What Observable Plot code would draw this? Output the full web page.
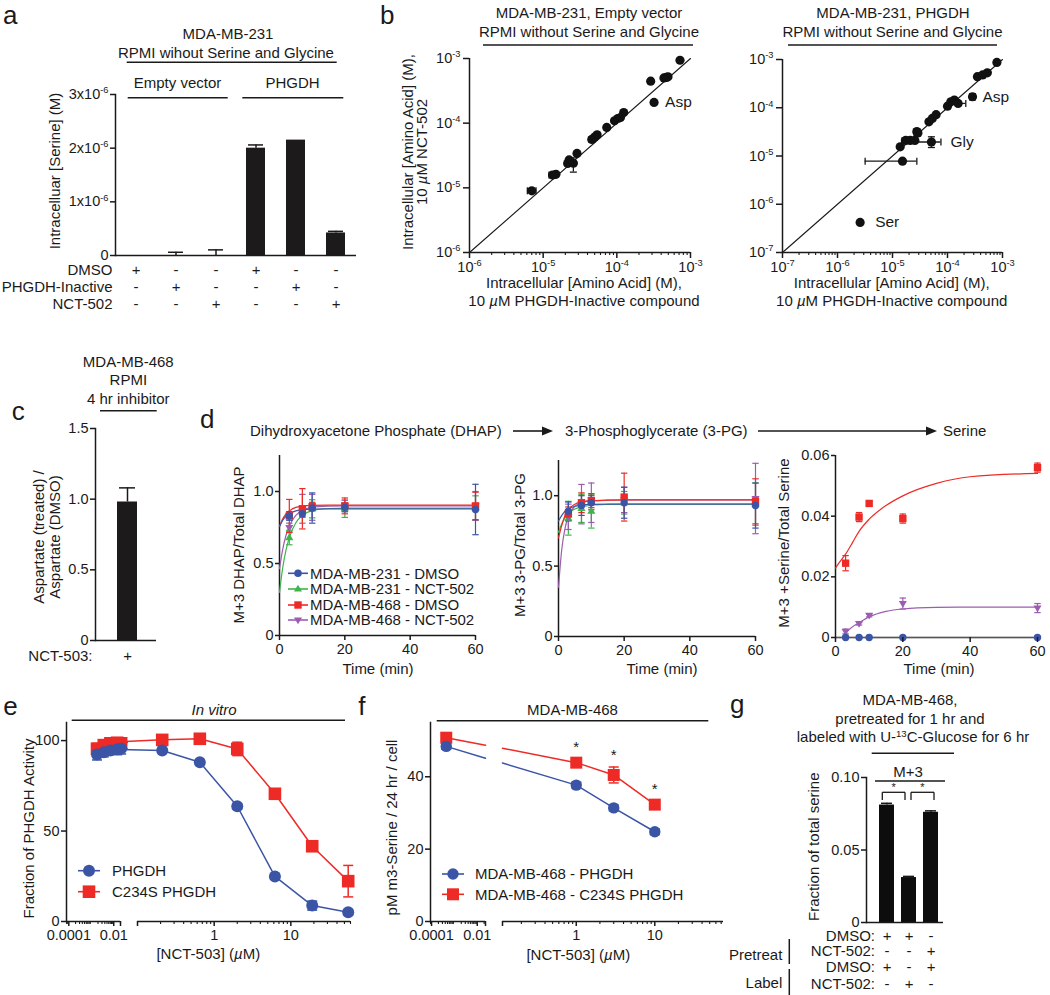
<!DOCTYPE html>
<html>
<head>
<meta charset="utf-8">
<script src="https://cdn.jsdelivr.net/npm/d3@7"></script>
<script src="https://cdn.jsdelivr.net/npm/@observablehq/plot@0.6"></script>
<style>
  html, body { margin: 0; padding: 0; background: #ffffff; }
  #fig { position: relative; width: 1050px; height: 995px; overflow: hidden; background: #ffffff;
         font-family: "Liberation Sans", Arial, Helvetica, sans-serif; color: #1a1a1a; }
</style>
</head>
<body>
<div id="fig"></div>
<script>
// ======================= DATA =======================
// --- panel a ---
const aConditions = ["EV DMSO", "EV PHGDH-Inactive", "EV NCT-502", "PHGDH DMSO", "PHGDH PHGDH-Inactive", "PHGDH NCT-502"];
const aSerine = [0, 0, 0, 2.0e-6, 2.15e-6, 0.42e-6];
const aSerineErr = [0, 0.06e-6, 0.105e-6, 0.06e-6, 0, 0.03e-6];
const aRowLabels = ["DMSO", "PHGDH-Inactive", "NCT-502"];
const aRowSigns = [
  ["+", "-", "-", "+", "-", "-"],
  ["-", "+", "-", "-", "+", "-"],
  ["-", "-", "+", "-", "-", "+"]
];
const aYTicks = [0, 1e-6, 2e-6, 3e-6];
const aYTickLabels = ["0", "1x10^-6", "2x10^-6", "3x10^-6"];

// --- panel b (x: PHGDH-Inactive, y: NCT-502) ---
const bDecades = [1e-7, 1e-6, 1e-5, 1e-4, 1e-3];
const bEmptyInactive = [7.0e-6, 1.34e-5, 1.49e-5, 2.15e-5, 2.25e-5, 2.57e-5, 2.88e-5, 4.57e-5, 5.0e-5, 5.4e-5, 7.3e-5, 9.3e-5, 1.03e-4, 1.12e-4, 1.24e-4, 2.88e-4, 3.2e-4, 4.36e-4, 4.7e-4, 4.95e-4, 7.2e-4];
const bEmptyNct      = [9.0e-6, 1.58e-5, 1.62e-5, 2.38e-5, 2.7e-5, 2.4e-5, 3.4e-5, 5.6e-5, 6.1e-5, 6.6e-5, 8.6e-5, 1.09e-4, 1.18e-4, 1.22e-4, 1.46e-4, 4.46e-4, 2.09e-4, 5.0e-4, 5.1e-4, 5.2e-4, 9.4e-4];
const bEmptyYErrIdx = [5];
const bEmptyYErrLo = [1.75e-5];
const bEmptyYErrHi = [2.9e-5];
const bEmptyXErrIdx = [0, 1, 7];
const bEmptyXErrLo = [6.1e-6, 1.2e-5, 4.2e-5];
const bEmptyXErrHi = [8.0e-6, 1.5e-5, 5.0e-5];
const bEmptyLabelIdx = [16];
const bEmptyLabelText = ["Asp"];

const bPhgdhInactive = [2.58e-6, 1.52e-5, 1.38e-5, 1.74e-5, 2.1e-5, 2.55e-5, 2.77e-5, 2.9e-5, 4.6e-5, 5.3e-5, 6.2e-5, 1.0e-4, 1.15e-4, 1.33e-4, 1.56e-4, 2.85e-4, 3.5e-4, 4.35e-4, 5.3e-4, 7.9e-4, 5.1e-5];
const bPhgdhNct      = [4.2e-7, 7.8e-6, 1.55e-5, 2.1e-5, 2.1e-5, 2.1e-5, 3.2e-5, 3.0e-5, 5.1e-5, 6.0e-5, 7.2e-5, 1.08e-4, 1.33e-4, 1.44e-4, 1.23e-4, 1.69e-4, 4.4e-4, 4.8e-4, 5.3e-4, 8.7e-4, 1.95e-5];
const bPhgdhXErrIdx = [1, 20, 14, 3];
const bPhgdhXErrLo = [3.18e-6, 1.46e-5, 1.15e-4, 1.5e-5];
const bPhgdhXErrHi = [2.77e-5, 7.6e-5, 2.15e-4, 2.0e-5];
const bPhgdhYErrIdx = [20, 15, 6];
const bPhgdhYErrLo = [1.5e-5, 1.45e-4, 2.7e-5];
const bPhgdhYErrHi = [2.5e-5, 1.95e-4, 3.6e-5];
const bPhgdhLabelIdx = [15, 20, 0];
const bPhgdhLabelText = ["Asp", "Gly", "Ser"];

// --- panel c ---
const cConditions = ["NCT-503"];
const cRatio = [0.98];
const cRatioErr = [0.10];
const cRowLabel = ["NCT-503:"];
const cRowSigns = ["+"];
const cYTicks = [0, 0.5, 1.0, 1.5];

// --- panel d ---
const dTimes = [3, 7, 10, 20, 60];
const dSeriesNames = ["MDA-MB-231 - DMSO", "MDA-MB-231 - NCT-502", "MDA-MB-468 - DMSO", "MDA-MB-468 - NCT-502"];
const dhap231Dmso    = [0.83, 0.845, 0.885, 0.89, 0.875];
const dhap231DmsoErr = [0.03, 0.02, 0.105, 0.03, 0.175];
const dhap231Nct     = [0.68, 0.86, 0.88, 0.88, 0.885];
const dhap231NctErr  = [0.05, 0.04, 0.063, 0.06, 0.085];
const dhap468Dmso    = [0.83, 0.88, 0.895, 0.90, 0.90];
const dhap468DmsoErr = [0.115, 0.14, 0.03, 0.055, 0.095];
const dhap468Nct     = [0.75, 0.88, 0.89, 0.90, 0.90];
const dhap468NctErr  = [0.03, 0.10, 0.09, 0.04, 0.10];
const pg231Dmso    = [0.89, 0.93, 0.95, 0.95, 0.93];
const pg231DmsoErr = [0.065, 0.07, 0.05, 0.11, 0.16];
const pg231Nct     = [0.84, 0.91, 0.89, 0.95, 0.94];
const pg231NctErr  = [0.12, 0.10, 0.12, 0.08, 0.15];
const pg468Dmso    = [0.87, 0.95, 0.965, 0.99, 0.96];
const pg468DmsoErr = [0.05, 0.07, 0.05, 0.17, 0.16];
const pg468Nct     = [0.85, 0.94, 0.95, 0.97, 0.98];
const pg468NctErr  = [0.09, 0.14, 0.14, 0.09, 0.25];
const ser231Dmso    = [0, 0, 0, 0, 0];
const ser231DmsoErr = [0, 0, 0, 0, 0];
const ser468Dmso    = [0.0245, 0.0397, 0.0442, 0.0392, 0.056];
const ser468DmsoErr = [0.0025, 0.0015, 0.0007, 0.0015, 0.0015];
const ser468Nct     = [0.002, 0.0046, 0.0073, 0.0112, 0.0097];
const ser468NctErr  = [0.0008, 0.0005, 0.0005, 0.0018, 0.0015];
// fitted curves
const curveT = [0, 1, 2, 3, 5, 7, 10, 15, 20, 30, 40, 60];
const dhapFit231Dmso = [0.757, 0.80, 0.83, 0.845, 0.865, 0.873, 0.878, 0.88, 0.88, 0.88, 0.88, 0.88];
const dhapFit231Nct  = [0.30, 0.473, 0.594, 0.68, 0.783, 0.834, 0.867, 0.882, 0.885, 0.885, 0.885, 0.885];
const dhapFit468Dmso = [0.757, 0.81, 0.845, 0.865, 0.89, 0.898, 0.903, 0.905, 0.905, 0.905, 0.905, 0.905];
const dhapFit468Nct  = [0.465, 0.60, 0.696, 0.76, 0.835, 0.87, 0.89, 0.898, 0.90, 0.90, 0.90, 0.90];
const pgFit231Dmso = [0.82, 0.86, 0.89, 0.905, 0.925, 0.933, 0.938, 0.94, 0.94, 0.94, 0.94, 0.94];
const pgFit231Nct  = [0.74, 0.80, 0.845, 0.875, 0.905, 0.92, 0.932, 0.938, 0.94, 0.94, 0.94, 0.94];
const pgFit468Dmso = [0.70, 0.79, 0.86, 0.90, 0.94, 0.955, 0.965, 0.968, 0.97, 0.97, 0.97, 0.97];
const pgFit468Nct  = [0.35, 0.62, 0.77, 0.85, 0.925, 0.95, 0.965, 0.968, 0.97, 0.97, 0.97, 0.97];
const serFit231Dmso = [0, 0, 0, 0, 0, 0, 0, 0, 0, 0, 0, 0];
const serFit468Dmso = [0.0229, 0.0245, 0.026, 0.0275, 0.0312, 0.035, 0.039, 0.0435, 0.0467, 0.0508, 0.053, 0.0541];
const serFit468Nct  = [null, null, 0, 0.0015, 0.0035, 0.0049, 0.0068, 0.0086, 0.0094, 0.0099, 0.01, 0.01];

// --- panel e ---
const eSeriesNames = ["PHGDH", "C234S PHGDH"];
const eConc = [0.0018, 0.0036, 0.0071, 0.0142, 0.0214, 0.21, 0.65, 2.0, 6.2, 19, 56];
const ePhgdh    = [92.3, 93.5, 94.5, 95.2, 95.6, 94.5, 88, 63.7, 24.9, 8.8, 5.1];
const ePhgdhErr = [3, 2.5, 2, 3, 3, 1, 1, 1.5, 1.5, 2.5, 1.5];
const eC234s    = [95.5, 97.5, 98.5, 98.8, 98.5, 100.4, 101, 95.4, 70.6, 41.6, 22.3];
const eC234sErr = [3, 2.5, 2.5, 2.5, 2.5, 1.5, 1, 3.7, 2, 2, 8.7];
const eLowTicks = [1e-4, 1e-2];
const eHighTicks = [1, 10];

// --- panel f ---
const fSeriesNames = ["MDA-MB-468 - PHGDH", "MDA-MB-468 - C234S PHGDH"];
const fConc = [0.00044, 1, 3, 10];
const fPhgdh    = [48.4, 37.7, 31.4, 24.8];
const fPhgdhErr = [0.8, 0.8, 0.8, 0.8];
const fC234s    = [50.8, 43.9, 40.5, 32.3];
const fC234sErr = [0.8, 1.0, 2.2, 1.0];
const fBreakConc = [0.023, 0.115];         // ends of the two axis segments
const fPhgdhAtBreak = [45.1, 43.8];        // line height where it meets the break
const fC234sAtBreak = [48.7, 47.9];
const fStarConc = [1, 3, 10];
const fYTicks = [0, 20, 40];

// --- panel g ---
const gConditions = ["DMSO/DMSO", "DMSO/NCT-502", "NCT-502/DMSO"];
const gFraction = [0.081, 0.031, 0.076];
const gFractionErr = [0.0012, 0.0008, 0.0010];
const gRowLabels = ["DMSO:", "NCT-502:", "DMSO:", "NCT-502:"];
const gRowSigns = [["+", "+", "-"], ["-", "-", "+"], ["+", "-", "+"], ["-", "+", "-"]];
const gYTicks = [0, 0.05, 0.10];

// ======================= STYLE HELPERS =======================
const FONT = '"Liberation Sans", Arial, Helvetica, sans-serif';
const INK = "#1a1a1a";
const BAR = "#1c1a1b";
const BLUE = "#3a55a6", GREEN = "#3db54a", RED = "#ee2a26", PURPLE = "#9c5db0";
const fig = document.getElementById("fig");

const symHCap = {draw(ctx, size) { const w = Math.sqrt(size / Math.PI); ctx.moveTo(-w, 0); ctx.lineTo(w, 0); }};
const symVCap = {draw(ctx, size) { const w = Math.sqrt(size / Math.PI); ctx.moveTo(0, -w); ctx.lineTo(0, w); }};
const symSquare = {draw(ctx, size) { const h = Math.sqrt(size / Math.PI); ctx.rect(-h, -h, 2 * h, 2 * h); }};
const symTriUp = {draw(ctx, size) { const r = Math.sqrt(size / Math.PI) * 1.25; ctx.moveTo(0, -r); ctx.lineTo(r * 0.95, r * 0.6); ctx.lineTo(-r * 0.95, r * 0.6); ctx.closePath(); }};
const symTriDown = {draw(ctx, size) { const r = Math.sqrt(size / Math.PI) * 1.25; ctx.moveTo(0, r); ctx.lineTo(r * 0.95, -r * 0.6); ctx.lineTo(-r * 0.95, -r * 0.6); ctx.closePath(); }};

function minorTicks(lo, hi) {
  const out = [];
  for (let n = Math.floor(Math.log10(lo)); n <= Math.ceil(Math.log10(hi)); n++)
    for (let k = 2; k <= 9; k++) {
      const v = +(k * Math.pow(10, n)).toPrecision(6);
      if (v >= lo && v <= hi) out.push(v);
    }
  return out;
}

function supify(svg) {
  svg.querySelectorAll("text").forEach(t => {
    if (t.children.length === 0 && t.textContent.includes("^")) {
      const [base, sup] = t.textContent.split("^");
      t.textContent = base;
      const ts = document.createElementNS("http://www.w3.org/2000/svg", "tspan");
      ts.setAttribute("dy", "-0.62em");
      ts.setAttribute("font-size", "0.64em");
      ts.textContent = sup;
      t.appendChild(ts);
    }
  });
}

function placePlot(frame, m, spec) {
  const {style: extra, ...rest} = spec;
  const svg = Plot.plot({
    width: frame.r - frame.l + m.l + m.r,
    height: frame.b - frame.t + m.t + m.b,
    marginLeft: m.l, marginRight: m.r, marginTop: m.t, marginBottom: m.b,
    style: {fontFamily: FONT, fontSize: "14.5px", background: "none", color: INK, overflow: "hidden", ...(extra || {})},
    ...rest
  });
  svg.style.position = "absolute";
  svg.style.left = (frame.l - m.l) + "px";
  svg.style.top = (frame.t - m.t) + "px";
  svg.style.maxWidth = "none";
  supify(svg);
  fig.appendChild(svg);
  return svg;
}

function errY(data, color, cap, w) {
  return [
    Plot.ruleX(data, {x: "x", y1: d => d.y - d.e, y2: d => d.y + d.e, stroke: color, strokeWidth: w}),
    Plot.dot(data, {x: "x", y: d => d.y + d.e, symbol: symHCap, r: cap, stroke: color, strokeWidth: w, fill: "none"}),
    Plot.dot(data, {x: "x", y: d => d.y - d.e, symbol: symHCap, r: cap, stroke: color, strokeWidth: w, fill: "none"})
  ];
}
function dotMark(data, color, symbol, r) {
  if (symbol === "circle") return Plot.dot(data, {x: "x", y: "y", r, fill: color, stroke: "none"});
  return Plot.dot(data, {x: "x", y: "y", r, symbol, fill: color, stroke: "none"});
}
const AX = {strokeWidth: 1.5, label: null, fontSize: 14.5};

// ======================= PANEL a =======================
{
  const data = aConditions.map((c, i) => ({c, v: aSerine[i], e: aSerineErr[i]}));
  const err = data.filter(d => d.e > 0);
  placePlot({l: 115, t: 94, r: 356, b: 255}, {l: 115, t: 10, r: 5, b: 65}, {
    x: {type: "band", domain: aConditions, paddingInner: 0.532, paddingOuter: 0.234, axis: null},
    y: {domain: [0, 3e-6]},
    marks: [
      Plot.barY(data, {x: "c", y: "v", fill: BAR}),
      Plot.ruleX(err, {x: "c", y1: "v", y2: d => d.v + d.e, strokeWidth: 1.5}),
      Plot.tickY(err, {x: "c", y: d => d.v + d.e, strokeWidth: 1.5, insetLeft: 2, insetRight: 2}),
      Plot.axisY({...AX, ticks: aYTicks, tickFormat: d => aYTickLabels[aYTicks.indexOf(d)], tickSize: 5, tickPadding: 2}),
      Plot.frame({anchor: "left", strokeWidth: 1.5}),
      Plot.ruleY([0], {strokeWidth: 1.5}),
      ...aRowLabels.map((name, r) => Plot.text([name], {text: d => d, frameAnchor: "bottom-left", textAnchor: "end", dx: -3, dy: 19.5 + r * 17, fontSize: 15})),
      ...aRowSigns.map((signs, r) => Plot.text(aConditions, {x: d => d, text: (d, i) => signs[i], frameAnchor: "bottom", dy: 19.5 + r * 17, fontSize: 15}))
    ]
  });
}

// ======================= PANEL b =======================
function bPanel(frame, m, xs, ys, xErrIdx, xErrLo, xErrHi, yErrIdx, yErrLo, yErrHi, labIdx, labText, labDx, domain) {
  const pts = xs.map((x, i) => ({x, y: ys[i]}));
  const xe = xErrIdx.map((k, j) => ({x: xs[k], y: ys[k], lo: xErrLo[j], hi: xErrHi[j]}));
  const ye = yErrIdx.map((k, j) => ({x: xs[k], y: ys[k], lo: yErrLo[j], hi: yErrHi[j]}));
  const dec = bDecades.filter(d => d >= domain[0] && d <= domain[1]);
  const fmt = d => "10^" + Math.round(Math.log10(d));
  placePlot(frame, m, {
    x: {type: "log", domain},
    y: {type: "log", domain},
    marks: [
      Plot.line(domain, {x: d => d, y: d => d, stroke: INK, strokeWidth: 1.1}),
      Plot.ruleY(xe, {y: "y", x1: "lo", x2: "hi", stroke: INK, strokeWidth: 1.3}),
      Plot.dot(xe, {x: "lo", y: "y", symbol: symVCap, r: 3.5, stroke: INK, strokeWidth: 1.3, fill: "none"}),
      Plot.dot(xe, {x: "hi", y: "y", symbol: symVCap, r: 3.5, stroke: INK, strokeWidth: 1.3, fill: "none"}),
      Plot.ruleX(ye, {x: "x", y1: "lo", y2: "hi", stroke: INK, strokeWidth: 1.3}),
      Plot.dot(ye, {x: "x", y: "lo", symbol: symHCap, r: 3.5, stroke: INK, strokeWidth: 1.3, fill: "none"}),
      Plot.dot(ye, {x: "x", y: "hi", symbol: symHCap, r: 3.5, stroke: INK, strokeWidth: 1.3, fill: "none"}),
      Plot.dot(pts, {x: "x", y: "y", r: 4.6, fill: "#111111", stroke: "none"}),
      ...labIdx.map((k, j) => Plot.text([pts[k]], {x: "x", y: "y", text: () => labText[j], dx: labDx[j], textAnchor: "start", fontSize: 15.5})),
      Plot.axisX({...AX, ticks: dec, tickFormat: fmt, tickSize: 6, tickPadding: 3}),
      Plot.axisX({...AX, ticks: minorTicks(domain[0], domain[1]), tickFormat: () => "", tickSize: 3, strokeWidth: 1.1}),
      Plot.axisY({...AX, ticks: dec, tickFormat: fmt, tickSize: 6, tickPadding: 3}),
      Plot.ruleX([domain[0]], {strokeWidth: 1.5}),
      Plot.ruleY([domain[0]], {strokeWidth: 1.5})
    ]
  });
}
bPanel({l: 469, t: 58, r: 690, b: 252}, {l: 70, t: 10, r: 22, b: 30},
  bEmptyInactive, bEmptyNct, bEmptyXErrIdx, bEmptyXErrLo, bEmptyXErrHi, bEmptyYErrIdx, bEmptyYErrLo, bEmptyYErrHi,
  bEmptyLabelIdx, bEmptyLabelText, [11], [1e-6, 1e-3]);
bPanel({l: 782, t: 59, r: 1002, b: 252}, {l: 70, t: 10, r: 30, b: 30},
  bPhgdhInactive, bPhgdhNct, bPhgdhXErrIdx, bPhgdhXErrLo, bPhgdhXErrHi, bPhgdhYErrIdx, bPhgdhYErrLo, bPhgdhYErrHi,
  bPhgdhLabelIdx, bPhgdhLabelText, [10, 19, 15], [1e-7, 1e-3]);

// ======================= PANEL c =======================
{
  const data = cConditions.map((c, i) => ({c, v: cRatio[i], e: cRatioErr[i]}));
  placePlot({l: 95, t: 428, r: 156, b: 640}, {l: 80, t: 10, r: 8, b: 30}, {
    x: {type: "band", domain: cConditions, paddingInner: 0.506, paddingOuter: 0.506, align: 0.54, axis: null},
    y: {domain: [0, 1.5]},
    marks: [
      Plot.barY(data, {x: "c", y: "v", fill: BAR}),
      Plot.ruleX(data, {x: "c", y1: "v", y2: d => d.v + d.e, strokeWidth: 1.5}),
      Plot.tickY(data, {x: "c", y: d => d.v + d.e, strokeWidth: 1.5, insetLeft: 2, insetRight: 2}),
      Plot.axisY({...AX, ticks: cYTicks, tickFormat: d => d === 0 ? "0" : d.toFixed(1), tickSize: 5, tickPadding: 2}),
      Plot.frame({anchor: "left", strokeWidth: 1.5}),
      Plot.ruleY([0], {strokeWidth: 1.5}),
      Plot.text(cRowLabel, {text: d => d, frameAnchor: "bottom-left", textAnchor: "end", dx: -3, dy: 20.5, fontSize: 15}),
      Plot.text(cConditions, {x: d => d, text: (d, i) => cRowSigns[i], frameAnchor: "bottom", dy: 20.5, fontSize: 15})
    ]
  });
}

// ======================= PANEL d =======================
function timePanel(frame, yDomain, yTicks, yFmt, series, fits) {
  const marks = [Plot.ruleX([0], {strokeWidth: 1.5}), Plot.ruleY([0], {strokeWidth: 1.5})];
  fits.forEach(f => marks.push(Plot.line(curveT.map((t, i) => ({x: t, y: f.values[i]})).filter(d => d.y != null),
    {x: "x", y: "y", stroke: f.color, strokeWidth: 1.2, curve: "monotone-x"})));
  series.forEach(s => marks.push(...errY(dTimes.map((t, i) => ({x: t, y: s.mean[i], e: s.err[i]})).filter(d => d.e > 0), s.color, 3.2, 1.2)));
  series.forEach(s => marks.push(dotMark(dTimes.map((t, i) => ({x: t, y: s.mean[i]})), s.color, s.symbol, s.r)));
  marks.push(Plot.axisX({...AX, ticks: [0, 20, 40, 60], tickSize: 5, tickPadding: 3}));
  marks.push(Plot.axisY({...AX, ticks: yTicks, tickFormat: yFmt, tickSize: 4, tickPadding: 2}));
  placePlot(frame, {l: 55, t: 10, r: 14, b: 30}, {x: {domain: [0, 60]}, y: {domain: yDomain}, marks});
}
const fmt1 = d => d === 0 ? "0" : d.toFixed(1);
const fmt2 = d => d === 0 ? "0" : d.toFixed(2);
timePanel({l: 279, t: 455, r: 475, b: 635}, [0, 1.25], [0, 0.5, 1.0], fmt1, [
  {mean: dhap231Nct, err: dhap231NctErr, color: GREEN, symbol: symTriUp, r: 3.4},
  {mean: dhap468Nct, err: dhap468NctErr, color: PURPLE, symbol: symTriDown, r: 3.4},
  {mean: dhap468Dmso, err: dhap468DmsoErr, color: RED, symbol: symSquare, r: 3.7},
  {mean: dhap231Dmso, err: dhap231DmsoErr, color: BLUE, symbol: "circle", r: 3.7}
], [
  {values: dhapFit231Nct, color: GREEN}, {values: dhapFit468Nct, color: PURPLE},
  {values: dhapFit468Dmso, color: RED}, {values: dhapFit231Dmso, color: BLUE}
]);
timePanel({l: 558, t: 460, r: 755, b: 636}, [0, 1.25], [0, 0.5, 1.0], fmt1, [
  {mean: pg231Nct, err: pg231NctErr, color: GREEN, symbol: symTriUp, r: 3.4},
  {mean: pg468Nct, err: pg468NctErr, color: PURPLE, symbol: symTriDown, r: 3.4},
  {mean: pg468Dmso, err: pg468DmsoErr, color: RED, symbol: symSquare, r: 3.7},
  {mean: pg231Dmso, err: pg231DmsoErr, color: BLUE, symbol: "circle", r: 3.7}
], [
  {values: pgFit231Nct, color: GREEN}, {values: pgFit468Nct, color: PURPLE},
  {values: pgFit468Dmso, color: RED}, {values: pgFit231Dmso, color: BLUE}
]);
timePanel({l: 835, t: 455, r: 1037, b: 637}, [0, 0.06], [0, 0.02, 0.04, 0.06], fmt2, [
  {mean: ser468Nct, err: ser468NctErr, color: PURPLE, symbol: symTriDown, r: 3.4},
  {mean: ser468Dmso, err: ser468DmsoErr, color: RED, symbol: symSquare, r: 3.7},
  {mean: ser231Dmso, err: ser231DmsoErr, color: BLUE, symbol: "circle", r: 3.7}
], [
  {values: serFit468Nct, color: PURPLE}, {values: serFit468Dmso, color: RED}, {values: serFit231Dmso, color: BLUE}
]);

// ======================= PANEL e (broken log axis) =======================
{
  const blue = eConc.map((x, i) => ({x, y: ePhgdh[i], e: ePhgdhErr[i]}));
  const red = eConc.map((x, i) => ({x, y: eC234s[i], e: eC234sErr[i]}));
  const lowDom = [7.9e-5, 0.02], highDom = [0.1, 60];
  const inLow = d => d.x <= lowDom[1] * 1.1, inHigh = d => d.x >= highDom[0];
  const seg = (dom, sel, withY, frame, m) => {
    const marks = [Plot.ruleY([0], {strokeWidth: 1.5})];
    if (withY) marks.push(Plot.frame({anchor: "left", strokeWidth: 1.5}),
      Plot.axisY({...AX, ticks: [0, 50, 100], tickSize: 5, tickPadding: 2}));
    marks.push(
      Plot.line(red, {x: "x", y: "y", stroke: RED, strokeWidth: 1.5}),
      Plot.line(blue, {x: "x", y: "y", stroke: BLUE, strokeWidth: 1.5}),
      ...errY(red.filter(sel), RED, 5, 1.5),
      ...errY(blue.filter(sel), BLUE, 5, 1.5),
      dotMark(red.filter(sel), RED, symSquare, 6.3),
      dotMark(blue.filter(sel), BLUE, "circle", 6),
      Plot.axisX({...AX, ticks: (withY ? eLowTicks : eHighTicks), tickFormat: d => String(d), tickSize: 5, tickPadding: 3}),
      Plot.axisX({...AX, ticks: [withY ? dom[1] : dom[0]], tickFormat: () => "", tickSize: 5}),
      Plot.axisX({...AX, ticks: minorTicks(dom[0], dom[1]), tickFormat: () => "", tickSize: 3, strokeWidth: 1.1})
    );
    placePlot(frame, m, {x: {type: "log", domain: dom}, y: {domain: [0, 110], axis: withY ? undefined : null}, marks});
  };
  seg(lowDom, inLow, true, {l: 66, t: 722, r: 120, b: 921}, {l: 50, t: 10, r: 8, b: 30});
  seg(highDom, inHigh, false, {l: 137, t: 722, r: 350, b: 921}, {l: 17, t: 10, r: 14, b: 30});
}

// ======================= PANEL f (broken log axis) =======================
{
  const blue = fConc.map((x, i) => ({x, y: fPhgdh[i], e: fPhgdhErr[i]}));
  const red = fConc.map((x, i) => ({x, y: fC234s[i], e: fC234sErr[i]}));
  const lowDom = [9e-5, fBreakConc[0]], highDom = [fBreakConc[1], 75];
  // segment 1
  placePlot({l: 430, t: 722, r: 485, b: 921}, {l: 50, t: 10, r: 6, b: 30}, {
    x: {type: "log", domain: lowDom}, y: {domain: [0, 55]},
    marks: [
      Plot.ruleY([0], {strokeWidth: 1.5}),
      Plot.frame({anchor: "left", strokeWidth: 1.5}),
      Plot.axisY({...AX, ticks: fYTicks, tickSize: 5, tickPadding: 2}),
      Plot.line([red[0], {x: fBreakConc[0], y: fC234sAtBreak[0]}], {x: "x", y: "y", stroke: RED, strokeWidth: 1.5}),
      Plot.line([blue[0], {x: fBreakConc[0], y: fPhgdhAtBreak[0]}], {x: "x", y: "y", stroke: BLUE, strokeWidth: 1.5}),
      ...errY(red.slice(0, 1), RED, 5, 1.5),
      ...errY(blue.slice(0, 1), BLUE, 5, 1.5),
      dotMark(red.slice(0, 1), RED, symSquare, 6),
      dotMark(blue.slice(0, 1), BLUE, "circle", 5.7),
      Plot.axisX({...AX, ticks: eLowTicks, tickFormat: d => String(d), tickSize: 5, tickPadding: 3}),
      Plot.axisX({...AX, ticks: [lowDom[1]], tickFormat: () => "", tickSize: 5}),
      Plot.axisX({...AX, ticks: minorTicks(lowDom[0], lowDom[1]), tickFormat: () => "", tickSize: 3, strokeWidth: 1.1})
    ]
  });
  // segment 2
  placePlot({l: 502, t: 722, r: 723, b: 921}, {l: 6, t: 10, r: 14, b: 30}, {
    x: {type: "log", domain: highDom}, y: {domain: [0, 55], axis: null},
    marks: [
      Plot.ruleY([0], {strokeWidth: 1.5}),
      Plot.line([{x: fBreakConc[1], y: fC234sAtBreak[1]}, ...red.slice(1)], {x: "x", y: "y", stroke: RED, strokeWidth: 1.5}),
      Plot.line([{x: fBreakConc[1], y: fPhgdhAtBreak[1]}, ...blue.slice(1)], {x: "x", y: "y", stroke: BLUE, strokeWidth: 1.5}),
      ...errY(red.slice(1), RED, 5, 1.5),
      ...errY(blue.slice(1), BLUE, 5, 1.5),
      dotMark(red.slice(1), RED, symSquare, 6),
      dotMark(blue.slice(1), BLUE, "circle", 5.7),
      Plot.text(red.filter(d => fStarConc.includes(d.x)), {x: "x", y: d => d.y + d.e, text: () => "*", dy: -12, fontSize: 15}),
      Plot.axisX({...AX, ticks: eHighTicks, tickFormat: d => String(d), tickSize: 5, tickPadding: 3}),
      Plot.axisX({...AX, ticks: [highDom[0]], tickFormat: () => "", tickSize: 5}),
      Plot.axisX({...AX, ticks: minorTicks(highDom[0], highDom[1]), tickFormat: () => "", tickSize: 3, strokeWidth: 1.1})
    ]
  });
}

// ======================= PANEL g =======================
{
  const data = gConditions.map((c, i) => ({c, v: gFraction[i], e: gFractionErr[i]}));
  const rowDy = [18, 33.5, 49, 66];
  placePlot({l: 866, t: 777, r: 943, b: 922}, {l: 95, t: 10, r: 10, b: 73}, {
    x: {type: "band", domain: gConditions, paddingInner: 0.333, paddingOuter: 0.377, align: 0.72, axis: null},
    y: {domain: [0, 0.10]},
    marks: [
      Plot.barY(data, {x: "c", y: "v", fill: "#0d0d0d"}),
      Plot.ruleX(data, {x: "c", y1: "v", y2: d => d.v + d.e, strokeWidth: 1.5}),
      Plot.tickY(data, {x: "c", y: d => d.v + d.e, strokeWidth: 1.5, insetLeft: 2, insetRight: 2}),
      Plot.axisY({...AX, ticks: gYTicks, tickFormat: fmt2, tickSize: 5, tickPadding: 2}),
      Plot.frame({anchor: "left", strokeWidth: 1.5}),
      Plot.ruleY([0], {strokeWidth: 1.5}),
      ...gRowLabels.map((name, r) => Plot.text([name], {text: d => d, frameAnchor: "bottom-left", textAnchor: "end", dx: 8.5, dy: rowDy[r], fontSize: 15})),
      ...gRowSigns.map((signs, r) => Plot.text(gConditions, {x: d => d, text: (d, i) => signs[i], frameAnchor: "bottom", dy: rowDy[r], fontSize: 15}))
    ]
  });
}

// ======================= ANNOTATIONS (titles, labels, legends) =======================
const ov = d3.select(fig).append("svg")
  .attr("width", 1050).attr("height", 995)
  .style("position", "absolute").style("left", "0px").style("top", "0px")
  .style("font-family", FONT).style("fill", INK).style("pointer-events", "none");

function T(x, y, content, {anchor = "middle", size = 15, rotate = 0, italic = false} = {}) {
  const t = ov.append("text").attr("x", x).attr("y", y).attr("dy", "0.35em")
    .attr("text-anchor", anchor).attr("font-size", size).attr("fill", INK);
  if (italic) t.attr("font-style", "italic");
  if (rotate) t.attr("transform", `rotate(${rotate},${x},${y})`);
  const segs = typeof content === "string" ? [{text: content}] : content;
  let shifted = 0;
  segs.forEach(s => {
    const ts = t.append("tspan").text(s.text);
    if (s.italic) ts.attr("font-style", "italic");
    if (s.sup) { ts.attr("font-size", size * 0.64).attr("dy", -size * 0.38); shifted = size * 0.38; }
    else if (shifted) { ts.attr("dy", shifted); shifted = 0; }
  });
  return t;
}
function H(x1, x2, y, w = 1.5) { ov.append("line").attr("x1", x1).attr("x2", x2).attr("y1", y).attr("y2", y).attr("stroke", INK).attr("stroke-width", w); }
function V(x, y1, y2, w = 1.5) { ov.append("line").attr("x1", x).attr("x2", x).attr("y1", y1).attr("y2", y2).attr("stroke", INK).attr("stroke-width", w); }
function arrow(x1, x2, y) {
  H(x1, x2 - 8, y, 1.6);
  ov.append("path").attr("d", `M${x2},${y}L${x2 - 11},${y - 4.5}L${x2 - 11},${y + 4.5}Z`).attr("fill", INK);
}
function legendRow(x1, x2, y, color, symbol, r, label, tx) {
  ov.append("line").attr("x1", x1).attr("x2", x2).attr("y1", y).attr("y2", y).attr("stroke", color).attr("stroke-width", 1.6);
  const cx = (x1 + x2) / 2;
  if (symbol === "circle") ov.append("circle").attr("cx", cx).attr("cy", y).attr("r", r).attr("fill", color);
  else ov.append("path").attr("transform", `translate(${cx},${y})`).attr("d", d3.symbol(symbol, Math.PI * r * r)()).attr("fill", color);
  T(tx, y, label, {anchor: "start", size: 15});
}

// panel letters
[["a", 3, 14.5], ["b", 380, 14.5], ["c", 11.7, 410.5], ["d", 200, 418.9], ["e", 3.3, 705.5], ["f", 358.3, 705.5], ["g", 730, 703.9]]
  .forEach(([s, x, y]) => T(x, y, s, {anchor: "start", size: 26}));

// a
T(228, 33.3, "MDA-MB-231");
T(226, 52.3, "RPMI wihout Serine and Glycine");
H(126.7, 336.7, 62.3);
T(177.5, 82.7, "Empty vector");
T(292.5, 82.7, "PHGDH");
H(127.7, 227.7, 97.7);
H(242.3, 343.3, 97.7);
T(55, 171, "Intracelluar [Serine] (M)", {rotate: -90});

// b
T(589, 12.7, "MDA-MB-231, Empty vector");
T(589, 31.7, "RPMI without Serine and Glycine");
H(483, 693, 45);
T(893, 12.7, "MDA-MB-231, PHGDH");
T(892.5, 31.7, "RPMI without Serine and Glycine");
H(788, 997, 45);
T(408, 152, "Intracellular [Amino Acid] (M),", {rotate: -90});
T(421.7, 152, [{text: "10 "}, {text: "\u00b5", italic: true}, {text: "M NCT-502"}], {rotate: -90});
T(584, 283, "Intracellular [Amino Acid] (M),");
T(584, 300.5, [{text: "10 "}, {text: "\u00b5", italic: true}, {text: "M PHGDH-Inactive compound"}]);
T(891.7, 283, "Intracellular [Amino Acid] (M),");
T(891.7, 300.5, [{text: "10 "}, {text: "\u00b5", italic: true}, {text: "M PHGDH-Inactive compound"}]);

// c
T(128.3, 361.7, "MDA-MB-468");
T(128.3, 380, "RPMI");
T(128.3, 398.3, "4 hr inhibitor");
H(100, 156.7, 410.7);
T(38.3, 537, "Aspartate (treated) /", {rotate: -90});
T(55, 537, "Aspartate (DMSO)", {rotate: -90});

// d
T(250, 431, "Dihydroxyacetone Phosphate (DHAP)", {anchor: "start"});
arrow(513, 553, 431);
T(565, 431, "3-Phosphoglycerate (3-PG)", {anchor: "start"});
arrow(758, 937, 431);
T(943, 431, "Serine", {anchor: "start"});
T(238.3, 545, "M+3 DHAP/Total DHAP", {rotate: -90});
T(519.3, 545, "M+3 3-PG/Total 3-PG", {rotate: -90});
T(783.3, 543, "M+3 +Serine/Total Serine", {rotate: -90});
T(378, 669, "Time (min)");
T(662, 669, "Time (min)");
T(939, 668.3, "Time (min)");
const dLegendStyle = [[BLUE, "circle", 3.8], [GREEN, symTriUp, 3.4], [RED, symSquare, 3.7], [PURPLE, symTriDown, 3.4]];
[573.3, 589, 605, 620].forEach((y, i) => legendRow(288, 308, y, dLegendStyle[i][0], dLegendStyle[i][1], dLegendStyle[i][2], dSeriesNames[i], 310));

// e
T(214, 710, "In vitro", {italic: true});
H(71.7, 345, 720.3);
T(28.3, 828.5, "Fraction of PHGDH Activity", {rotate: -90});
T(208.3, 953.3, [{text: "[NCT-503] ("}, {text: "\u00b5", italic: true}, {text: "M)"}]);
legendRow(78, 100, 870.7, BLUE, "circle", 6, eSeriesNames[0], 112);
legendRow(78, 100, 891.7, RED, symSquare, 6.3, eSeriesNames[1], 112);

// f
T(572.5, 709.3, "MDA-MB-468");
H(436.7, 708.3, 720.7);
T(391.7, 827.5, "pM m3-Serine / 24 hr / cell", {rotate: -90});
T(578.3, 955, [{text: "[NCT-503] ("}, {text: "\u00b5", italic: true}, {text: "M)"}]);
legendRow(442, 464, 874, BLUE, "circle", 5.7, fSeriesNames[0], 475);
legendRow(442, 464, 894.3, RED, symSquare, 6, fSeriesNames[1], 475);

// g
T(910, 700, "MDA-MB-468,");
T(910, 718.3, "pretreated for 1 hr and");
T(913, 737, [{text: "labeled with U-"}, {text: "13", sup: true}, {text: "C-Glucose for 6 hr"}]);
H(871.7, 954, 753.3);
T(908, 771.7, "M+3");
H(875, 945, 781);
// significance brackets
[[882.3, 905], [911, 934]].forEach(([x1, x2]) => {
  H(x1, x2, 792.3, 1.3); V(x1, 792.3, 800, 1.3); V(x2, 792.3, 800, 1.3);
  T((x1 + x2) / 2, 787, "*", {size: 11});
});
T(813.3, 846.7, "Fraction of total serine", {rotate: -90});
T(782.3, 954.5, "Pretreat", {anchor: "end"});
V(789.3, 939, 964);
T(782.3, 982.7, "Label", {anchor: "end"});
V(789.3, 969, 995);
</script>
</body>
</html>
